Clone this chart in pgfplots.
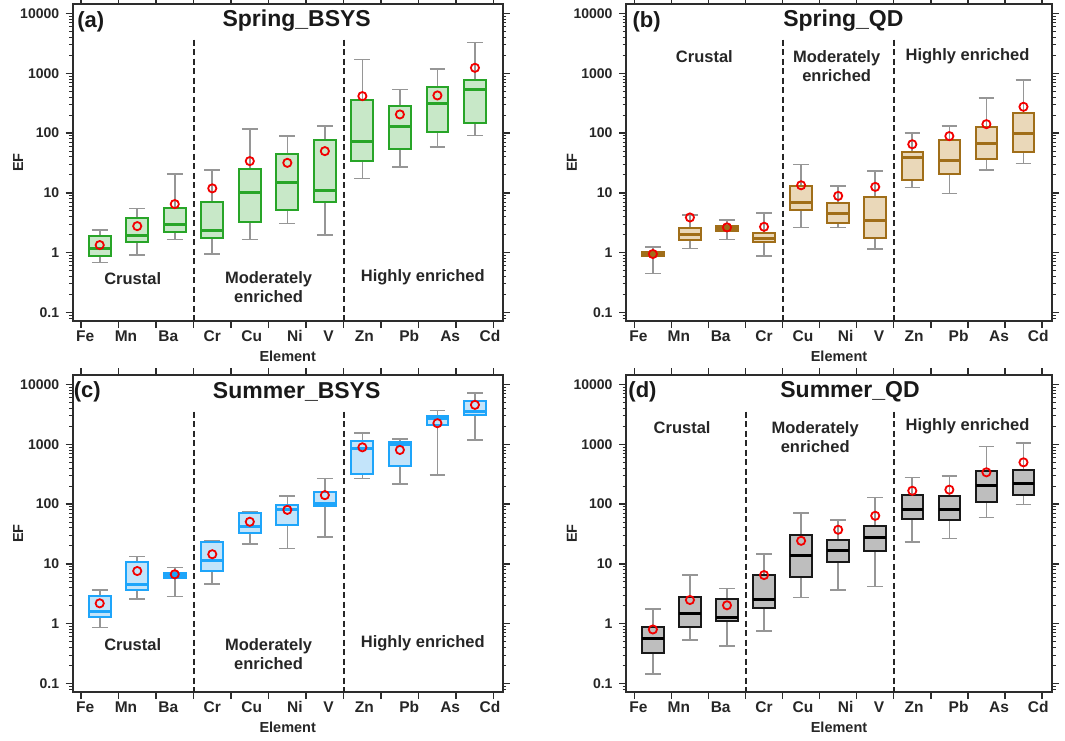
\documentclass[border=0pt]{standalone}
\usepackage{pgfplots}
\pgfplotsset{compat=1.18}
\usepackage{fontspec}
\setmainfont{Liberation Sans}
\definecolor{gEdge}{RGB}{40,165,40}
\definecolor{gFill}{RGB}{200,232,200}
\definecolor{bEdge}{RGB}{160,110,25}
\definecolor{bFill}{RGB}{234,216,185}
\definecolor{cEdge}{RGB}{30,165,250}
\definecolor{cFill}{RGB}{195,228,250}
\definecolor{kFill}{RGB}{190,190,190}
\definecolor{wGray}{RGB}{150,150,150}
\definecolor{axGray}{RGB}{45,45,45}
% \bx{pos}{lower whisker}{lower quartile}{median}{upper quartile}{upper whisker}
\newcommand{\bx}[6]{%
  \pgfmathsetmacro\xl{#1-0.29}\pgfmathsetmacro\xr{#1+0.29}%
  \pgfmathsetmacro\wl{#1-0.21}\pgfmathsetmacro\wr{#1+0.21}%
  \addplot[whisk] coordinates {(#1,#3) (#1,#2)};
  \addplot[whisk] coordinates {(\wl,#2) (\wr,#2)};
  \addplot[whisk] coordinates {(#1,#5) (#1,#6)};
  \addplot[whisk] coordinates {(\wl,#6) (\wr,#6)};
  \addplot[boxs] coordinates {(\xl,#3) (\xr,#3) (\xr,#5) (\xl,#5)} -- cycle;
  \addplot[meds] coordinates {(\xl,#4) (\xr,#4)};
}
\tikzset{
  vdash/.style={line width=2pt, dash pattern=on 6pt off 3.5pt, black!85},
  grp/.style={font=\fontsize{16.5}{19}\selectfont\bfseries, text=black!85, align=center},
  ttl/.style={font=\fontsize{23}{26}\selectfont\bfseries, text=black!90},
  plab/.style={font=\fontsize{22}{24}\selectfont\bfseries, text=black!90},
}
\pgfplotsset{
  mypanel/.style={
    scale only axis, width=430pt, height=317pt,
    anchor=north west, clip=false,
    xmin=-0.22, xmax=11.24, ymin=0.072, ymax=14400,
    axis line style={axGray, line width=1.8pt},
    tick style={axGray, line width=1.4pt},
    tick align=outside,
    major tick length=7pt, minor tick length=3.5pt,
    minor tick style={line width=0.9pt},
    xtick={0,...,11}, xticklabels={},
    ytick={0.1,1,10,100,1000,10000},
    yticklabels={0.1,1,10,100,1000,10000},
    minor ytick={0.08,0.09,0.2,0.3,0.4,0.5,0.6,0.7,0.8,0.9,2,3,4,5,6,7,8,9,20,30,40,50,60,70,80,90,200,300,400,500,600,700,800,900,2000,3000,4000,5000,6000,7000,8000,9000},
    yticklabel style={font=\fontsize{14}{16}\selectfont\bfseries, text=black!85, xshift=-3pt},
    extra x ticks={0.11,1.2,2.33,3.5,4.55,5.7,6.6,7.55,8.75,9.84,10.9},
    extra x tick labels={Fe,Mn,Ba,Cr,Cu,Ni,V,Zn,Pb,As,Cd},
    extra x tick style={major tick length=0pt,
      xticklabel style={font=\fontsize{15.5}{17}\selectfont\bfseries, text=black!85, yshift=-6pt}},
    xlabel={Element}, ylabel={EF},
    xlabel style={font=\fontsize{14.5}{16}\selectfont\bfseries, text=black!85, at={(axis description cs:0.5,-0.11)}, anchor=center},
    ylabel style={font=\fontsize{14.5}{16}\selectfont\bfseries, text=black!85, at={(axis description cs:-0.127,0.5)}, anchor=center},
    whisk/.style={draw=wGray, line width=1.6pt, line cap=butt},
  },
  meanstyle/.style={only marks, mark=o, mark size=4.1pt, mark options={draw=red!95!black, line width=1.8pt}},
}
\begin{document}
\begin{tikzpicture}
\useasboundingbox (0,0) rectangle (1065pt,-740pt);
% (a)
\begin{axis}[mypanel, ymode=log, at={(72.7pt,-4pt)},
  boxs/.style={draw=gEdge, fill=gFill, line width=2pt},
  meds/.style={draw=gEdge, line width=3pt, line cap=butt}]
\bx{0.5}{0.685}{0.875}{1.17}{1.89}{2.38}
\bx{1.5}{0.91}{1.52}{1.96}{3.83}{5.5}
\bx{2.5}{1.66}{2.23}{3.0}{5.5}{20.6}
\bx{3.5}{0.94}{1.77}{2.38}{7.1}{24}
\bx{4.5}{1.66}{3.28}{10}{24.6}{118}
\bx{5.5}{3.08}{5.27}{14.7}{43.9}{89}
\bx{6.5}{1.96}{7.1}{10.8}{78}{131}
\bx{7.5}{17.4}{34.4}{71}{356}{1700}
\bx{8.5}{27.3}{53.9}{131}{286}{536}
\bx{9.5}{58}{104}{313}{579}{1190}
\bx{10.5}{91}{149}{536}{767}{3270}
\addplot[meanstyle] coordinates {(0.5,1.34) (1.5,2.78) (2.5,6.5) (3.5,11.9) (4.5,34) (5.5,31.8) (6.5,49.9) (7.5,415) (8.5,205) (9.5,426) (10.5,1234)};
\draw[vdash] (axis cs:3,3670) -- (axis cs:3,0.072);
\draw[vdash] (axis cs:7,3670) -- (axis cs:7,0.072);
\node[grp] at (axis cs:1.38,0.37) {Crustal};
\node[grp] at (axis cs:5.0,0.262) {Moderately\\enriched};
\node[grp] at (axis cs:9.11,0.394) {Highly enriched};
\node[ttl] at (axis cs:5.75,7540) {Spring\_BSYS};
\node[plab] at (axis cs:0.26,7250) {(a)};
\end{axis}
% (b)
\begin{axis}[mypanel, ymode=log, at={(626pt,-4pt)}, width=426pt, xmin=-0.225, xmax=11.27,
  boxs/.style={draw=bEdge, fill=bFill, line width=2pt},
  meds/.style={draw=bEdge, line width=3pt, line cap=butt}]
\bx{0.5}{0.45}{0.875}{0.94}{1.03}{1.25}
\bx{1.5}{1.17}{1.66}{2.04}{2.54}{4.25}
\bx{2.5}{1.66}{2.29}{2.54}{2.81}{3.5}
\bx{3.5}{0.875}{1.52}{1.75}{2.1}{4.64}
\bx{4.5}{2.64}{5.27}{6.8}{13.1}{29.8}
\bx{5.5}{2.64}{3.16}{4.5}{6.8}{13}
\bx{6.5}{1.15}{1.77}{3.41}{8.6}{23.4}
\bx{7.5}{12.3}{16.7}{39}{48.6}{101}
\bx{8.5}{9.8}{21}{35}{76}{132}
\bx{9.5}{24}{36.2}{67}{127}{389}
\bx{10.5}{31}{47.4}{98}{218}{767}
\addplot[meanstyle] coordinates {(0.5,0.95) (1.5,3.88) (2.5,2.65) (3.5,2.71) (4.5,13.4) (5.5,8.9) (6.5,12.6) (7.5,65) (8.5,89) (9.5,141) (10.5,275)};
\draw[vdash] (axis cs:4,3670) -- (axis cs:4,0.072);
\draw[vdash] (axis cs:7,3670) -- (axis cs:7,0.072);
\node[grp] at (axis cs:1.89,1936) {Crustal};
\node[grp] at (axis cs:5.46,1300) {Moderately\\enriched};
\node[grp] at (axis cs:8.99,1936) {Highly enriched};
\node[ttl] at (axis cs:5.64,7540) {Spring\_QD};
\node[plab] at (axis cs:0.33,7250) {(b)};
\end{axis}
% (c)
\begin{axis}[mypanel, ymode=log, at={(72.7pt,-375pt)},
  boxs/.style={draw=cEdge, fill=cFill, line width=2pt},
  meds/.style={draw=cEdge, line width=3pt, line cap=butt}]
\bx{0.5}{0.857}{1.31}{1.57}{2.91}{3.66}
\bx{1.5}{2.56}{3.66}{4.6}{10.8}{13.3}
\bx{2.5}{2.84}{5.75}{6.3}{6.98}{8.7}
\bx{3.5}{4.56}{7.6}{11.2}{23.3}{24.3}
\bx{4.5}{21.4}{32.7}{43}{70}{75}
\bx{5.5}{18}{44.5}{82}{96}{138}
\bx{6.5}{28.4}{94}{102}{161}{269}
\bx{7.5}{269}{318}{835}{1150}{1550}
\bx{8.5}{216}{428}{975}{1109}{1228}
\bx{9.5}{306}{2110}{2660}{3020}{3660}
\bx{10.5}{1180}{3140}{3530}{5390}{7250}
\addplot[meanstyle] coordinates {(0.5,2.19) (1.5,7.6) (2.5,6.7) (3.5,14.5) (4.5,50.6) (5.5,80) (6.5,141) (7.5,890) (8.5,804) (9.5,2250) (10.5,4560)};
\draw[vdash] (axis cs:3,3520) -- (axis cs:3,0.072);
\draw[vdash] (axis cs:7,3520) -- (axis cs:7,0.072);
\node[grp] at (axis cs:1.38,0.45) {Crustal};
\node[grp] at (axis cs:5.0,0.314) {Moderately\\enriched};
\node[grp] at (axis cs:9.11,0.468) {Highly enriched};
\node[ttl] at (axis cs:5.75,7640) {Summer\_BSYS};
\node[plab] at (axis cs:0.17,7430) {(c)};
\end{axis}
% (d)
\begin{axis}[mypanel, ymode=log, at={(626pt,-375pt)}, width=426pt, xmin=-0.225, xmax=11.27,
  boxs/.style={draw=black!90, fill=kFill, line width=2pt},
  meds/.style={draw=black, line width=3pt, line cap=butt}]
\bx{0.5}{0.145}{0.327}{0.56}{0.89}{1.74}
\bx{1.5}{0.53}{0.88}{1.49}{2.8}{6.5}
\bx{2.5}{0.42}{1.11}{1.29}{2.56}{3.9}
\bx{3.5}{0.75}{1.81}{2.56}{6.46}{14.5}
\bx{4.5}{2.73}{6.05}{14}{30.2}{70.6}
\bx{5.5}{3.66}{10.8}{16.5}{24.9}{54.6}
\bx{6.5}{4.17}{16.5}{27.6}{42.2}{129}
\bx{7.5}{23.4}{56}{82}{141}{280}
\bx{8.5}{26.6}{54.6}{82}{138}{298}
\bx{9.5}{60}{109}{203}{362}{925}
\bx{10.5}{98.6}{141}{225}{371}{1052}
\addplot[meanstyle] coordinates {(0.5,0.80) (1.5,2.49) (2.5,2.03) (3.5,6.5) (4.5,24.3) (5.5,37.2) (6.5,63.7) (7.5,167) (8.5,174) (9.5,340) (10.5,499)};
\draw[vdash] (axis cs:3,3520) -- (axis cs:3,0.072);
\draw[vdash] (axis cs:7,3520) -- (axis cs:7,0.072);
\node[grp] at (axis cs:1.29,1930) {Crustal};
\node[grp] at (axis cs:4.88,1310) {Moderately\\enriched};
\node[grp] at (axis cs:8.99,1980) {Highly enriched};
\node[ttl] at (axis cs:5.82,7640) {Summer\_QD};
\node[plab] at (axis cs:0.22,7430) {(d)};
\end{axis}
\end{tikzpicture}
\end{document}
